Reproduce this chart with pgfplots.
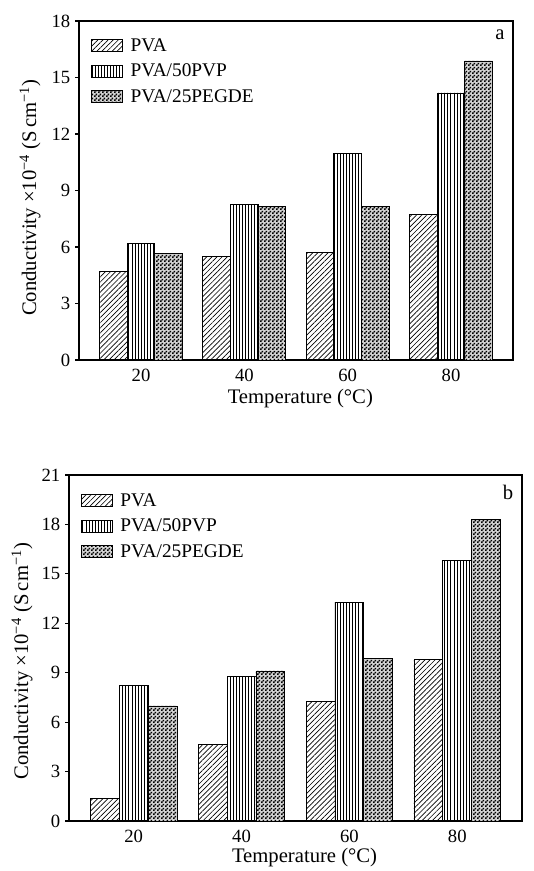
\documentclass[border=0pt]{standalone}
\usepackage{fontspec}
\setmainfont{Liberation Serif}
\usepackage{pgfplots}
\pgfplotsset{compat=1.18}
\usetikzlibrary{patterns.meta}

\pgfdeclarepattern{
  name=checker,
  type=uncolored,
  bottom left={\pgfpoint{0pt}{0pt}},
  top right={\pgfpoint{2.6pt}{2.6pt}},
  tile size={\pgfpoint{2.6pt}{2.6pt}},
  code={
    \pgfpathrectangle{\pgfpointorigin}{\pgfpoint{1.45pt}{1.45pt}}
    \pgfpathrectangle{\pgfpoint{1.3pt}{1.3pt}}{\pgfpoint{1.45pt}{1.45pt}}
    \pgfusepath{fill}
  }
}

\newcommand\labfont{\fontsize{15.5}{18}\selectfont}
\newcommand\gap{\hspace*{4pt}}

\pgfplotsset{
  condplot/.style={
    scale only axis,
    anchor=south west,
    xmin=8, xmax=92,
    xtick={20,40,60,80},
    xtick style={draw=none},
    ytick distance=3,
    ymin=0,
    tick align=outside,
    major tick length=3pt,
    ytick pos=left,
    axis line style={line width=0.8pt},
    every tick/.style={black, line width=0.8pt},
    tick label style={font=\fontsize{14}{16}\selectfont},
    /pgf/number format/assume math mode=true,
    xlabel={Temperature (°C)},
    ylabel={Conductivity ×10\textsuperscript{−4}\ (S\,cm\textsuperscript{−1})},
    ybar=0pt,
    bar width=5.35,
    legend cell align=left,
    legend style={draw=none, fill=none, anchor=north west,
      font=\fontsize{14.5}{17}\selectfont, row sep=4pt},
  },
  barstyle/.style={draw=black, line width=0.6pt,
    legend image code/.code={\draw[##1] (0pt,-4.5pt) rectangle (23pt,4.5pt);}},
  pva/.style={barstyle, pattern={Lines[angle=45,distance=2.7pt,line width=0.5pt]}},
  pvp/.style={barstyle, pattern={Lines[angle=90,distance=2.3pt,line width=0.5pt]}},
  peg/.style={barstyle, preaction={fill=gray!35}, pattern=checker},
}

\begin{document}
\begin{tikzpicture}
\useasboundingbox (0pt,0pt) rectangle (400.5pt,653.25pt);

% panel a
\begin{axis}[condplot,
  at={(59.25pt,383.25pt)},
  width=325.5pt, height=254.25pt,
  ymax=18,
  every axis y label/.style={at={(rel axis cs:0,0.479)}, xshift=-36.75pt, rotate=90, anchor=center, font=\labfont},
  every axis x label/.style={at={(rel axis cs:0.51,0)}, yshift=-29.25pt, anchor=center, font=\labfont},
  legend style={at={(rel axis cs:0.018,0.965)}},
]
\addplot[pva] coordinates {(20,4.69) (40,5.48) (60,5.72) (80,7.73)};
\addplot[pvp] coordinates {(20,6.17) (40,8.26) (60,10.98) (80,14.18)};
\addplot[peg] coordinates {(20,5.68) (40,8.17) (60,8.15) (80,15.88)};
\legend{\gap PVA, \gap PVA/50PVP, \gap PVA/25PEGDE}
\node[font=\labfont, anchor=center] at (rel axis cs:0.97,0.958) {a};
\end{axis}

% panel b
\begin{axis}[condplot,
  at={(51.75pt,37.5pt)},
  width=339.75pt, height=259.5pt,
  ymax=21,
  every axis y label/.style={at={(rel axis cs:0,0.462)}, xshift=-35.25pt, rotate=90, anchor=center, font=\labfont},
  every axis x label/.style={at={(rel axis cs:0.52,0)}, yshift=-27.75pt, anchor=center, font=\labfont},
  legend style={at={(rel axis cs:0.017,0.963)}},
]
\addplot[pva] coordinates {(20,1.36) (40,4.66) (60,7.25) (80,9.78)};
\addplot[pvp] coordinates {(20,8.22) (40,8.77) (60,13.28) (80,15.79)};
\addplot[peg] coordinates {(20,6.98) (40,9.11) (60,9.88) (80,18.3)};
\legend{\gap PVA, \gap PVA/50PVP, \gap PVA/25PEGDE}
\node[font=\labfont, anchor=center] at (rel axis cs:0.969,0.95) {b};
\end{axis}
\end{tikzpicture}
\end{document}
